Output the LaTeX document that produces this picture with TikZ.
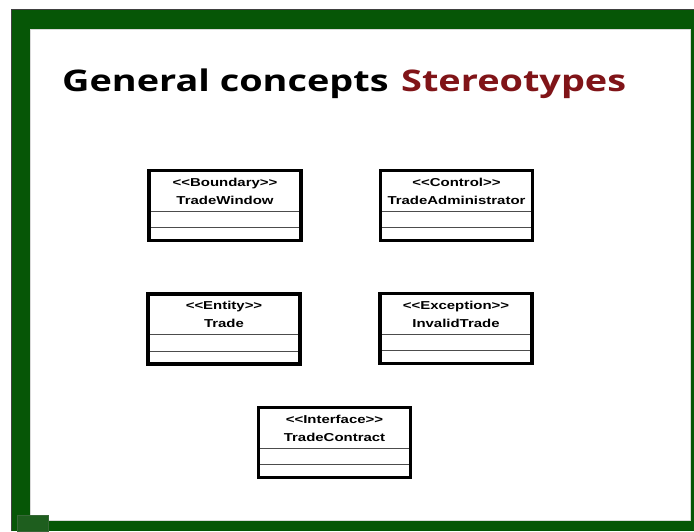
\documentclass[tikz,border=0pt]{standalone}
\usepackage{fontspec}
\setmainfont{Liberation Sans}
\newfontfamily\titlefont[FakeStretch=1.27]{Open Sans}
\newfontfamily\umlfont[FakeStretch=1.3]{Liberation Sans}
\usepackage{xcolor}
\usepackage{tikz}
\usetikzlibrary{positioning,calc}
\definecolor{framegreen}{RGB}{6,86,6}
\definecolor{titlered}{RGB}{128,20,24}
\tikzset{
  cls/.style={rectangle, draw, line width=3.5pt, fill=white, inner sep=0pt,
              minimum width=152pt, minimum height=70pt,
              path picture={
                \draw[div] ($(path picture bounding box.north west)+(-5pt,-40.75pt)$) -- ++(170pt,0pt);
                \draw[div] ($(path picture bounding box.north west)+(-5pt,-57.25pt)$) -- ++(170pt,0pt);
              }},
  div/.style={line width=0.9pt, black!70},
  head/.style={align=center, inner sep=0pt, anchor=north,
               font=\umlfont\bfseries\fontsize{11.5}{18}\selectfont},
  ttl/.style={anchor=base west, inner sep=0pt,
              font=\titlefont\bfseries\fontsize{29.8}{32}\selectfont},
}

\begin{document}
\begin{tikzpicture}
\useasboundingbox (0pt,0pt) rectangle (694pt,-531pt);
% slide frame
\fill[white] (0pt,0pt) rectangle (694pt,-531pt);
\fill[framegreen] (11pt,-9pt) rectangle (694pt,-531pt);
\draw[black!75, line width=1pt] (11.5pt,-531pt) -- (11.5pt,-9.5pt) -- (694pt,-9.5pt);
\fill[white] (30pt,-29pt) rectangle (690pt,-520pt);
\draw[black!15, line width=0.6pt] (30pt,-29pt) rectangle (690pt,-520pt);
\draw[framegreen!60!gray, fill=framegreen!80!gray, line width=0.6pt] (17pt,-515pt) rectangle (48pt,-531pt);

% title
\node[ttl] (gen) at (62pt,-91pt) {General concepts};
\node[ttl, text=titlered] (ster) at (401pt,-91pt) {Stereotypes};

% classes
\node[cls] (bnd) at (225pt,-205.5pt) {};
\node[cls] (ctl) at (456.5pt,-205.5pt) {};
\node[cls] (ent) at (224pt,-329pt) {};
\node[cls] (exc) at (456pt,-328.5pt) {};
\node[cls] (ifc) at (334.5pt,-442.5pt) {};

\node[head, below=9pt of bnd.north] (bndT) {<<Boundary>>\\TradeWindow};
\node[head, below=9pt of ctl.north] (ctlT) {<<Control>>\\TradeAdministrator};
\node[head, below=9pt of ent.north] (entT) {<<Entity>>\\Trade};
\node[head, below=9pt of exc.north] (excT) {<<Exception>>\\InvalidTrade};
\node[head, below=9pt of ifc.north] (ifcT) {<<Interface>>\\TradeContract};
\end{tikzpicture}
\end{document}
